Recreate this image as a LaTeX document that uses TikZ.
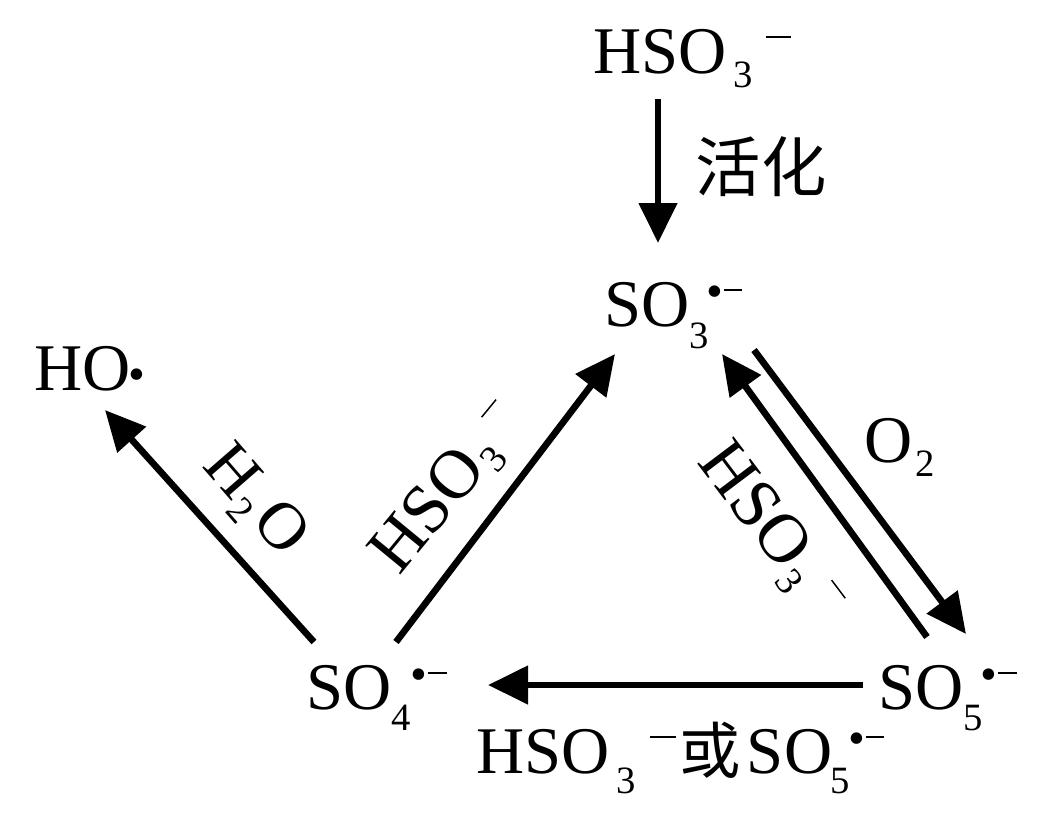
\documentclass[tikz,border=0pt]{standalone}
\usepackage{fontspec}
\setmainfont{Liberation Serif}
\newfontfamily\cjk{Noto Sans CJK SC}
\usetikzlibrary{arrows.meta}
\tikzset{
 lab/.style={inner sep=0pt,font=\fontsize{50}{50}\selectfont,text=black},
 rlab/.style={inner sep=0pt,font=\fontsize{52}{52}\selectfont,text=black},
 arr/.style={line width=5pt,-{Triangle[length=30pt,width=28pt]}},
}
% subscript: drop, digit
\newcommand{\subd}[2]{\raisebox{#1}{\fontsize{29}{29}\selectfont #2}}
% radical anion mark: space before the dot
\newcommand{\radi}[1]{\kern#1\raisebox{14pt}{\fontsize{36}{36}\selectfont\textbullet}\kern0.5pt\rule[26.2pt]{14pt}{1.8pt}}
\newcommand{\minus}[2]{\kern#1\rule[#2]{19pt}{1.8pt}}
\newcommand{\thinminus}[2]{\kern#1\rule[#2]{17pt}{1.1pt}}
\begin{document}
\begin{tikzpicture}[x=0.75pt,y=-0.75pt]
\useasboundingbox (0,0) rectangle (1056,815);
\node[lab,anchor=base west] (hso) at (593,73) {HSO\kern5pt\subd{-11pt}{3}\minus{10pt}{26pt}};
\node[lab,anchor=base west] (so3) at (604,326) {SO\subd{-16.5pt}{3}\radi{-2pt}};
\node[lab,anchor=base west] (ho) at (34,390) {HO\kern-1.5pt\raisebox{0pt}{\fontsize{36}{36}\selectfont\textbullet}};
\node[lab,anchor=base west] (so4) at (306,709) {SO\subd{-16pt}{4}\radi{0pt}};
\node[lab,anchor=base west] (so5) at (878,709) {SO\subd{-16pt}{5}\radi{-1.5pt}};
\coordinate (a1) at (658,99); \coordinate (a2) at (658,243);
\coordinate (b1) at (396,642); \coordinate (b2) at (615,354);
\coordinate (c1) at (314,642); \coordinate (c2) at (105,410);
\coordinate (d1) at (754,350); \coordinate (d2) at (966,634);
\coordinate (e1) at (927,637); \coordinate (e2) at (722,354);
\coordinate (f1) at (863,685); \coordinate (f2) at (488,685);
\draw[arr] (a1) -- (a2);
\draw[arr] (b1) -- (b2);
\draw[arr] (c1) -- (c2);
\draw[arr] (d1) -- (d2);
\draw[arr] (e1) -- (e2);
\draw[arr] (f1) -- (f2);
\node[lab] (t1) at (761,167) {\cjk\fontsize{49}{49}\selectfont 活化};
\node[rlab,rotate=50.6,anchor=base west] (t3) at (399.6,577) {HSO\kern2pt\subd{-8pt}{3}\thinminus{11pt}{28pt}};
\node[lab,rotate=-49,anchor=base west] (t4) at (201,466) {H\kern1pt\subd{-9pt}{2}\kern4.5pt O};
\node[lab,anchor=base west] (t5) at (864,462) {O\kern2pt\subd{-11pt}{2}};
\node[rlab,rotate=-53,anchor=base west] (t6) at (696.6,462) {HSO\kern2pt\subd{-8pt}{3}\thinminus{11pt}{27pt}};
\node[lab,anchor=base west] (t7) at (476,773) {HSO\kern5pt\subd{-15pt}{3}\minus{11pt}{26pt}\kern3pt{\cjk\fontsize{46}{46}\selectfont 或}\kern4.5pt SO\kern-1pt\subd{-15pt}{5}\radi{-1.5pt}};
\end{tikzpicture}
\end{document}
